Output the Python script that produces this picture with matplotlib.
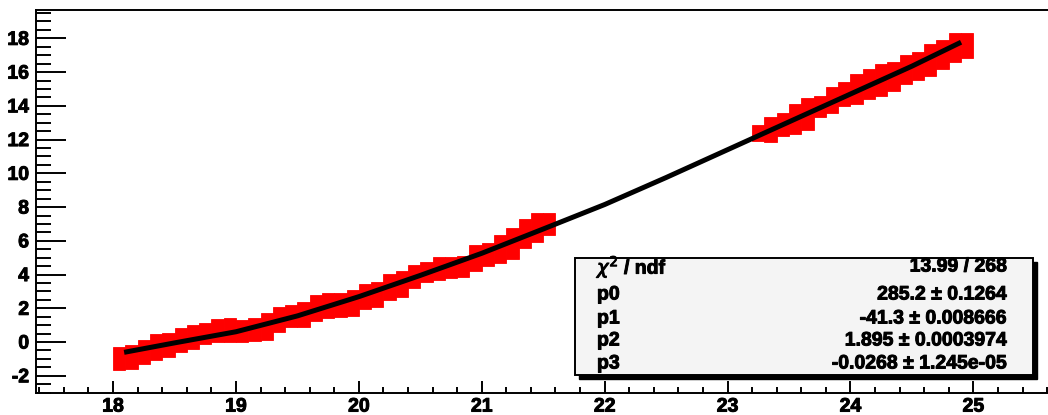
import numpy as np
import matplotlib
matplotlib.use('Agg')
import matplotlib.pyplot as plt
import matplotlib.patheffects as pe
from matplotlib.patches import Rectangle
from matplotlib.ticker import MultipleLocator

# measured points (red boxes): centre and half height, boxes 0.1 wide
x_low = np.round(np.arange(18.05, 21.56, 0.1), 2)
y_low = [-0.99, -0.87, -0.60, -0.31, -0.16, 0.12, 0.31, 0.50, 0.69, 0.70,
         0.66, 0.73, 0.93, 1.35, 1.54, 1.63, 2.00, 2.17, 2.20, 2.30,
         2.69, 2.80, 3.27, 3.45, 3.88, 4.15, 4.38, 4.42, 4.48, 5.00,
         5.18, 5.53, 5.85, 6.43, 6.77, 7.00]
e_low = [0.68, 0.71, 0.73, 0.78, 0.71, 0.70, 0.72, 0.62, 0.67, 0.70,
         0.63, 0.68, 0.80, 0.74, 0.66, 0.73, 0.78, 0.72, 0.70, 0.78,
         0.76, 0.75, 0.77, 0.76, 0.68, 0.60, 0.68, 0.64, 0.60, 0.78,
         0.68, 0.84, 0.90, 0.86, 0.86, 0.64]

x_high = np.round(np.arange(23.25, 24.96, 0.1), 2)
y_high = [12.39, 12.60, 12.90, 13.20, 13.50, 13.95, 14.35, 14.70, 15.00, 15.30,
          15.53, 15.75, 16.15, 16.37, 16.70, 17.05, 17.45, 17.57]
e_high = [0.50, 0.75, 0.70, 0.88, 0.95, 0.62, 0.75, 0.70, 0.90, 0.88,
          0.95, 0.85, 0.86, 0.84, 0.95, 0.85, 0.85, 0.73]

# fitted cubic
fit_x = [18.09, 18.5, 19.0, 19.5, 20.0, 20.5, 21.0, 21.5, 22.0, 22.5,
         23.0, 23.5, 24.0, 24.5, 24.9]
fit_y = [-0.61, -0.05, 0.61, 1.55, 2.69, 3.95, 5.26, 6.70, 8.15, 9.75,
         11.40, 13.05, 14.70, 16.35, 17.77]

stat_names = [r'$\chi^{2}$ / ndf', 'p0', 'p1', 'p2', 'p3']
stat_values = ['13.99 / 268', '285.2 ± 0.1264', '-41.3 ± 0.008666',
               '1.895 ± 0.0003974', '-0.0268 ± 1.245e-05']

W, H = 1048, 415
FONT = dict(family='Liberation Sans', fontweight='bold', fontsize=14,
            path_effects=[pe.withStroke(linewidth=0.7, foreground='black')])

fig = plt.figure(figsize=(W / 100, H / 100), dpi=100)

def fx(px):
    return px / W

def fy(py):
    return 1 - py / H

ax = fig.add_axes([fx(36), fy(393), fx(1060) - fx(36), fy(10) - fy(393)])

for xs, ys, es in [(x_low, y_low, e_low), (x_high, y_high, e_high)]:
    ys = np.array(ys)
    es = np.array(es)
    ax.bar(xs, 2 * es, bottom=ys - es, width=0.1, color='red',
           edgecolor='red', linewidth=0.6, zorder=2)

ax.plot(fit_x, fit_y, color='black', lw=3.6, solid_capstyle='butt', zorder=3)

ax.xaxis.set_minor_locator(MultipleLocator(0.2))
ax.yaxis.set_minor_locator(MultipleLocator(0.5))
ax.tick_params(axis='both', which='both', direction='in', width=1.4,
               top=False, right=False)
ax.tick_params(axis='y', which='major', length=21.5, pad=5)
ax.tick_params(axis='y', which='minor', length=10.8)
ax.tick_params(axis='x', which='major', length=8.3, pad=4)
ax.tick_params(axis='x', which='minor', length=4)

xt = np.arange(18, 26)
yt = np.arange(-2, 20, 2)
ax.set_xticks(xt)
ax.set_xticklabels([str(v) for v in xt], **FONT)
ax.set_yticks(yt)
ax.set_yticklabels([str(v) for v in yt], **FONT)
ax.set_xlim(17.373, 25.705)
ax.set_ylim(-3.02, 19.68)

for s in ax.spines.values():
    s.set_linewidth(1.4)
ax.spines['right'].set_visible(False)

# stats box with shadow
bx0, bx1, by0, by1 = 575, 1033, 258, 375
fig.add_artist(Rectangle((fx(bx0 + 4), fy(by1 + 4)), fx(bx1) - fx(bx0), fy(by0) - fy(by1),
                         transform=fig.transFigure, facecolor='black', edgecolor='black', zorder=5))
fig.add_artist(Rectangle((fx(bx0), fy(by1)), fx(bx1) - fx(bx0), fy(by0) - fy(by1),
                         transform=fig.transFigure, facecolor='#f4f4f4', edgecolor='black',
                         linewidth=1.4, zorder=6))
rows = [267, 295, 319, 341, 364]
for name, val, r in zip(stat_names, stat_values, rows):
    fig.text(fx(597), fy(r), name, va='center', ha='left', zorder=7, **FONT)
    fig.text(fx(1007), fy(r), val, va='center', ha='right', zorder=7, **FONT)

fig.savefig('out.png', dpi=100)
